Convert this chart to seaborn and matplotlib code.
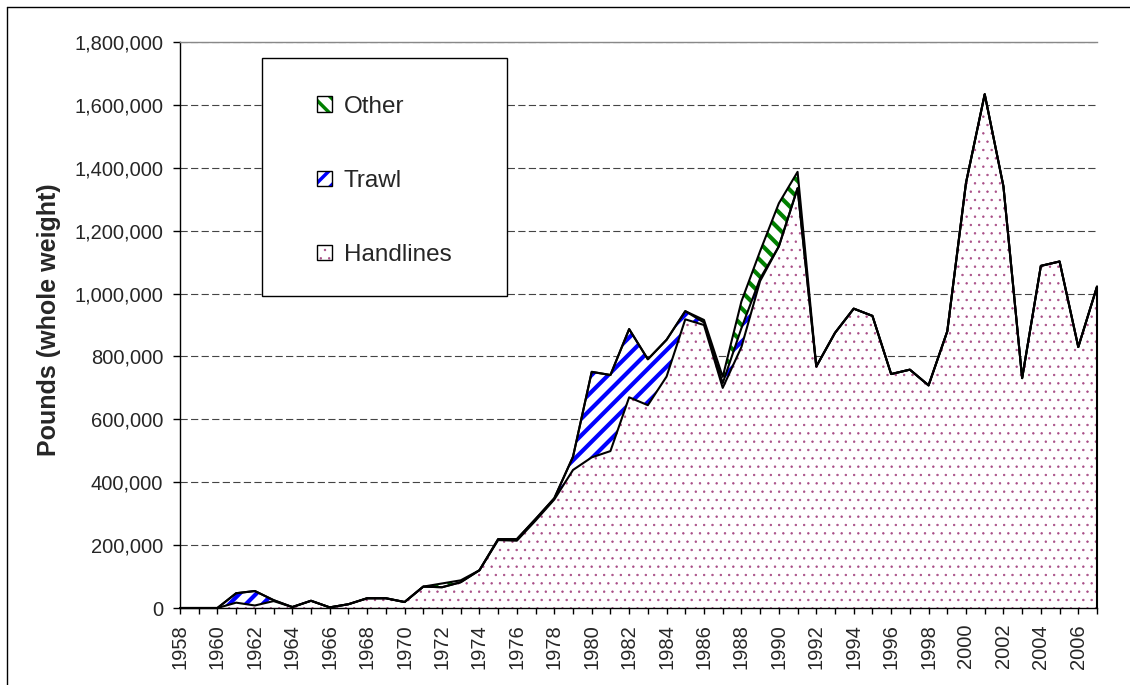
""" stacked landings by gear, 1958-2007 """
import matplotlib
matplotlib.use("Agg")
import matplotlib.pyplot as plt
import matplotlib.ticker as mticker
from matplotlib.patches import Patch, Rectangle
from matplotlib.lines import Line2D
from matplotlib.legend_handler import HandlerTuple
import pandas as pd
import seaborn as sns

years = list(range(1958, 2008))

handlines = [0, 0, 0, 17000, 8000, 22000, 3000, 23000, 2000, 12000,
             31000, 31000, 19000, 68000, 66000, 82000, 120000, 216000, 214000, 278000,
             345000, 439000, 479000, 499000, 670000, 645000, 736000, 918000, 900000, 700000,
             830000, 1040000, 1150000, 1335000, 768000, 875000, 952000, 929000, 744000, 758000,
             708000, 880000, 1352000, 1634000, 1341000, 731000, 1088000, 1102000, 830000, 1022000]

trawl = [0, 0, 0, 30000, 46000, 3000, 0, 0, 0, 0,
         0, 0, 0, 0, 0, 0, 0, 3000, 5000, 5000,
         4000, 42000, 272000, 242000, 217000, 146000, 117000, 26000, 8000, 15000,
         60000, 8000, 0, 0, 0, 0, 0, 0, 0, 0,
         0, 0, 0, 0, 0, 0, 0, 0, 0, 0]

other = [0, 0, 0, 0, 0, 0, 0, 0, 0, 0,
         0, 0, 0, 0, 12000, 6000, 0, 0, 0, 0,
         0, 0, 0, 0, 0, 0, 0, 0, 8000, 20000,
         85000, 87000, 137000, 52000, 0, 0, 0, 0, 0, 0,
         0, 0, 0, 0, 0, 0, 0, 0, 0, 0]

series_names = ["Other", "Trawl", "Handlines"]
series_colors = {"Other": "#008000", "Trawl": "#0000FF", "Handlines": "#A84C86"}
series_hatch = {"Other": "\\\\", "Trawl": "//", "Handlines": ".."}
series_hlw = {"Other": 3.0, "Trawl": 3.0, "Handlines": 0.5}

sns.set_style("white")
plt.rcParams["font.family"] = ["Liberation Sans", "DejaVu Sans"]

df = pd.DataFrame({"year": years, "Handlines": handlines, "Trawl": trawl, "Other": other})
df["h_top"] = df["Handlines"]
df["t_top"] = df["h_top"] + df["Trawl"]
df["o_top"] = df["t_top"] + df["Other"]

W, H = 1130, 685
fig = plt.figure(figsize=(W / 100, H / 100), dpi=100)
ax = fig.add_axes([180 / W, 77 / H, 917 / W, 566 / H])


def fill_layer(lower, upper, name):
    with plt.rc_context({"hatch.linewidth": series_hlw[name]}):
        coll = ax.fill_between(df["year"], lower, upper, facecolor="white",
                               edgecolor=series_colors[name], linewidth=0,
                               hatch=series_hatch[name], zorder=2)
    if hasattr(coll, "set_hatch_linewidth"):
        coll.set_hatch_linewidth(series_hlw[name])
    return coll


fill_layer(0, df["h_top"], "Handlines")
fill_layer(df["h_top"], df["t_top"], "Trawl")
fill_layer(df["t_top"], df["o_top"], "Other")

# black borders of the stacked areas
for col in ["h_top", "t_top", "o_top"]:
    sns.lineplot(data=df, x="year", y=col, color="black", linewidth=1.5,
                 ax=ax, zorder=3, clip_on=False)
ax.plot([df["year"].iloc[-1]] * 2, [0, df["o_top"].iloc[-1]], color="black",
        linewidth=1.5, zorder=3, clip_on=False)

ax.set_xlim(years[0], years[-1])
ax.set_ylim(0, 1800000)
ax.set_xticks(years)
ax.set_xticklabels([str(y) if y % 2 == 0 else "" for y in years], rotation=90)
ax.set_yticks(range(0, 1800001, 200000))
ax.yaxis.set_major_formatter(mticker.FuncFormatter(lambda v, p: "{:,.0f}".format(v)))
ax.tick_params(axis="x", bottom=True, direction="out", length=4.5, width=1,
               color="black", pad=7, labelsize=14.5)
ax.tick_params(axis="y", left=True, direction="out", length=5, width=1,
               color="black", pad=7, labelsize=14.5)

ax.set_axisbelow(True)
ax.yaxis.grid(True, linestyle=(0, (6.5, 3)), color="#444444", linewidth=0.8)
ax.xaxis.grid(False)

for side in ["left", "bottom"]:
    ax.spines[side].set_color("black")
    ax.spines[side].set_linewidth(1.0)
ax.spines["top"].set_color("#888888")
ax.spines["top"].set_linewidth(1.0)
ax.spines["right"].set_visible(False)

ax.set_xlabel("")
ax.set_ylabel("Pounds (whole weight)", fontsize=18, fontweight="bold")
ax.yaxis.set_label_coords((61 - 180) / 917, 0.51)

# legend box
ax.add_patch(Rectangle(((262 - 180) / 917, (608 - 296) / 566), 245 / 917, 238 / 566,
                       transform=ax.transAxes, facecolor="white", edgecolor="black",
                       linewidth=1.0, zorder=4, clip_on=False))

handles = []
for name in series_names:
    hp = Patch(facecolor="white", edgecolor=series_colors[name], linewidth=0,
               hatch=series_hatch[name])
    bp = Patch(facecolor="none", edgecolor="black", linewidth=1.0)
    handles.append((hp, bp))

with plt.rc_context({"hatch.linewidth": 2.5}):
    leg = ax.legend(handles, series_names, handler_map={tuple: HandlerTuple(ndivide=1)},
                    loc="center left", bbox_to_anchor=((317 - 180) / 917, (608 - 181) / 566),
                    frameon=False, borderpad=0, borderaxespad=0, fontsize=17.5,
                    handlelength=0.6, handleheight=0.6, handletextpad=0.5,
                    labelspacing=2.15)
leg.set_zorder(5)
for p in leg.findobj(Rectangle):
    if p.get_hatch() == ".." and hasattr(p, "set_hatch_linewidth"):
        p.set_hatch_linewidth(0.5)

# chart area border
fig.add_artist(Line2D([7 / W, 7 / W], [0, 1 - 7 / H], color="black", linewidth=1.0))
fig.add_artist(Line2D([7 / W, 1], [1 - 7 / H, 1 - 7 / H], color="black", linewidth=1.0))

fig.savefig("out.png", dpi=100)
plt.close(fig)
